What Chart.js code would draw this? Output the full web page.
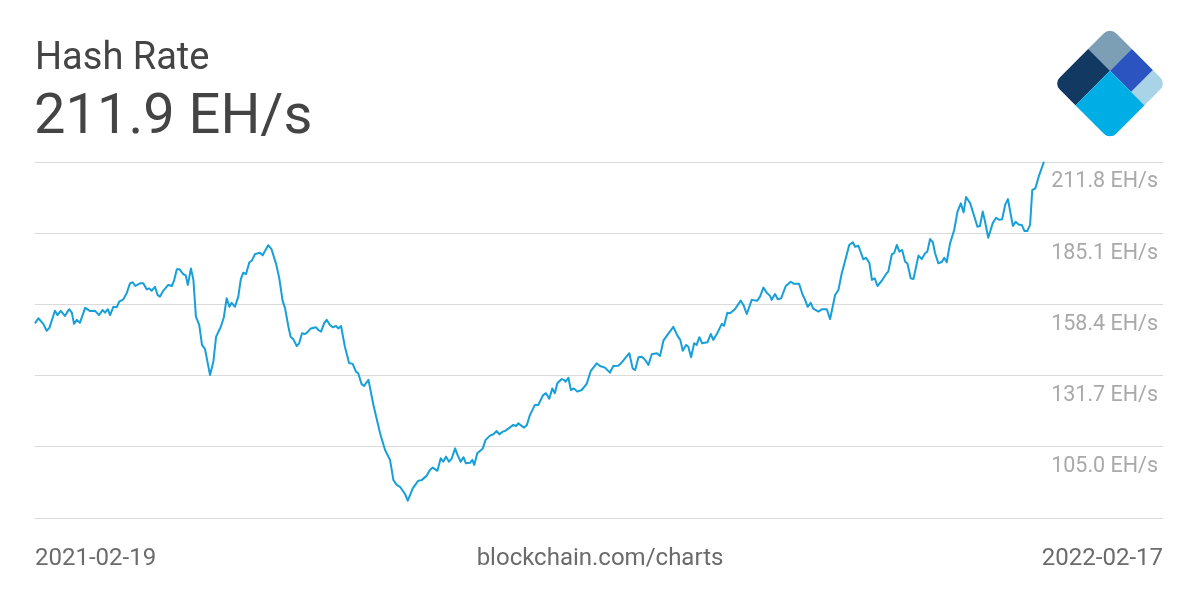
<!DOCTYPE html>
<html>
<head>
<meta charset="utf-8">
<script src="https://cdn.jsdelivr.net/npm/chart.js@4"></script>
<style>
  html, body { margin: 0; padding: 0; background: #ffffff; }
  #wrap { position: relative; width: 1200px; height: 600px; overflow: hidden; font-family: Roboto, "Noto Sans", sans-serif; }
  #chartBox { position: absolute; left: 0; top: 0; width: 1200px; height: 600px; }
  .txt { position: absolute; line-height: 1; white-space: nowrap; }
  #title { left: 35px; top: 37px; font-size: 38px; color: #444444; }
  #value { left: 34px; top: 86px; font-size: 56px; color: #444444; }
  #fLeft { left: 35px; top: 545px; font-size: 24px; color: #6b6b6b; }
  #fMid { left: 0; width: 1200px; text-align: center; top: 545px; font-size: 24px; color: #6b6b6b; }
  #fRight { right: 37px; top: 545px; font-size: 24px; color: #6b6b6b; }
  #logo { position: absolute; left: 0; top: 0; }
</style>
</head>
<body>
<div id="wrap">
  <div id="chartBox"><canvas id="c"></canvas></div>
  <div class="txt" id="title">Hash Rate</div>
  <div class="txt" id="value">211.9 EH/s</div>
  <div class="txt" id="fLeft">2021-02-19</div>
  <div class="txt" id="fMid">blockchain.com/charts</div>
  <div class="txt" id="fRight">2022-02-17</div>
  <svg id="logo" width="1200" height="160" viewBox="0 0 1200 160">
    <defs>
      <clipPath id="rr"><rect x="-40" y="-40" width="80" height="80" rx="9" ry="9"/></clipPath>
    </defs>
    <g transform="translate(1110,83.5) rotate(45)" clip-path="url(#rr)">
      <rect x="-40" y="-40" width="31" height="31" fill="#7c9fb5"/>
      <rect x="-40" y="-9" width="31" height="49" fill="#123962"/>
      <rect x="-9" y="-40" width="30" height="31" fill="#2b54c0"/>
      <rect x="21" y="-40" width="19" height="31" fill="#a9d4e8"/>
      <rect x="-9" y="-9" width="49" height="49" fill="#00aee6"/>
    </g>
  </svg>
</div>
<script>
// ---- data ----
// day offset from 2021-02-19
const days = [
  0.0,1.2,3.0,4.2,5.2,7.2,8.1,9.3,10.8,12.3,13.3,14.1,15.1,16.2,18.1,19.9,21.7,23.1,24.4,25.3,
  26.3,27.1,28.3,29.5,30.4,31.9,33.1,34.3,35.3,36.2,37.9,39.1,40.3,41.3,42.1,43.3,44.3,45.1,46.3,48.1,
  49.4,50.2,51.2,52.1,53.6,54.4,55.2,56.3,57.2,58.1,59.3,60.3,61.4,63.2,64.4,65.4,67.1,68.2,69.2,70.2,
  71.0,72.2,73.4,74.3,75.2,76.2,77.4,78.3,79.4,81.2,82.2,84.2,85.4,87.0,88.2,89.4,90.3,91.5,92.3,93.3,
  94.5,95.4,96.4,97.5,98.3,99.6,101.5,102.3,103.3,104.4,105.3,106.5,107.5,108.7,109.5,110.5,111.9,113.4,114.7,115.9,
  116.7,117.9,118.8,120.4,122.2,124.6,126.4,128.2,129.4,130.6,131.8,133.6,134.6,136.4,138.4,139.6,141.4,142.6,143.6,145.3,
  146.5,147.4,148.4,149.5,150.5,151.7,152.6,153.7,154.7,155.6,157.1,157.9,158.6,159.7,161.7,162.7,164.3,165.5,166.7,167.7,
  168.9,169.7,171.5,172.7,173.7,174.5,176.6,177.6,178.7,180.5,181.7,183.5,184.5,185.7,186.8,187.7,188.6,190.2,191.0,191.6,
  192.6,193.5,194.6,195.8,197.4,199.2,200.7,202.8,204.0,205.8,207.6,208.8,210.6,211.6,213.4,214.6,215.8,216.7,217.9,219.1,
  220.3,221.5,222.7,224.5,225.7,226.9,228.1,230.5,232.0,233.0,233.9,235.1,235.9,236.9,238.0,238.9,239.9,240.9,242.8,244.0,
  244.9,246.2,248.0,248.8,250.0,251.0,252.8,254.8,255.8,257.0,258.8,260.8,261.8,263.0,264.2,265.4,266.0,267.2,268.2,269.4,
  271.1,272.9,274.1,275.9,277.2,278.0,279.0,280.1,281.0,282.9,284.1,285.9,287.1,288.9,290.1,291.3,292.5,294.0,295.3,296.1,
  297.3,299.1,300.1,301.3,302.2,303.2,304.2,305.7,307.5,308.1,309.4,310.2,311.2,312.1,313.1,314.2,315.0,316.2,317.2,319.0,
  320.2,321.4,322.2,323.2,324.2,325.0,326.2,327.5,328.3,329.2,330.4,331.9,333.1,334.3,335.3,336.2,337.7,338.8,340.3,341.2,
  342.2,343.0,344.2,345.8,347.0,348.2,349.2,350.3,351.3,353.1,354.1,355.1,356.3,357.3,358.3,359.3,360.1,361.2,362.6,364.3
];
// hash rate, EH/s
const hashRate = [
  151.3,153.2,151.1,148.5,149.6,156.0,154.4,156.0,154.1,156.6,155.3,151.1,152.6,151.5,157.1,155.9,156.0,154.4,156.3,155.3,
  156.6,154.4,157.5,157.3,159.4,160.3,162.6,166.3,166.7,165.3,166.3,166.3,164.1,164.4,163.5,165.0,161.9,161.3,163.5,165.7,
  165.3,167.3,171.6,171.6,169.7,169.3,165.7,171.9,167.6,153.8,150.7,143.2,141.6,131.9,136.9,146.3,150.0,153.6,160.7,157.5,
  159.0,157.5,161.3,167.8,170.3,169.8,174.2,174.8,177.2,177.8,176.8,180.6,179.1,173.8,168.2,159.8,156.9,150.0,146.3,145.3,
  142.8,143.8,147.6,147.3,147.9,149.4,149.8,148.8,148.2,151.3,152.6,150.7,149.8,150.3,149.4,150.3,142.5,136.4,136.1,133.2,
  132.6,128.6,127.8,130.1,120.7,110.1,103.8,100.1,92.6,90.7,90.0,87.3,84.8,89.4,92.3,92.5,94.1,96.3,97.2,96.0,
  100.7,99.4,101.3,99.4,100.7,104.4,101.9,99.4,101.1,98.8,99.0,100.1,98.2,102.6,104.4,107.6,109.2,109.7,110.9,109.7,
  110.7,110.9,112.3,113.2,112.8,113.8,112.2,113.2,116.9,120.7,120.7,124.4,125.1,123.0,126.9,125.1,128.8,130.4,130.1,129.4,
  130.9,126.3,126.9,125.7,126.3,128.6,133.5,136.3,135.3,134.7,132.8,135.3,135.4,136.3,138.6,140.1,134.4,133.8,138.6,138.8,
  137.6,135.7,139.7,140.1,139.1,144.8,146.6,150.0,146.6,145.1,141.0,143.2,142.5,138.6,143.8,143.2,146.1,143.8,144.2,147.3,
  145.1,147.3,151.1,150.4,155.3,155.1,156.7,159.8,158.2,154.8,160.1,159.8,161.3,164.7,162.8,161.6,160.1,162.3,160.3,160.7,
  165.3,166.9,166.1,166.1,161.9,160.3,157.5,159.0,156.8,155.7,156.6,156.6,152.9,161.9,163.8,170.1,174.7,180.7,181.7,180.0,
  180.4,175.3,175.9,173.8,167.6,168.2,165.3,167.2,170.1,170.7,177.2,177.6,180.7,178.2,178.8,174.4,173.8,168.2,167.9,176.7,
  175.4,177.6,178.2,182.9,181.7,177.6,173.8,174.4,175.9,174.2,181.3,186.3,193.2,196.3,192.9,198.7,196.3,192.6,187.5,187.8,
  193.2,189.7,183.4,188.8,190.9,190.1,190.3,195.7,197.9,187.8,189.4,188.4,188.2,185.9,185.9,188.2,201.3,201.9,206.9,211.9
];
// y-axis gridline values
const tickValues = [78.3, 105.0, 131.7, 158.4, 185.1, 211.8];
const unit = ' EH/s';
const xMaxDay = 407.3; // axis extends past the last day to leave room for labels

const points = days.map((d, i) => ({ x: d, y: hashRate[i] }));

new Chart(document.getElementById('c'), {
  type: 'line',
  data: {
    datasets: [{
      data: points,
      borderColor: '#169fd9',
      borderWidth: 2,
      pointRadius: 0,
      tension: 0,
      fill: false,
      clip: false,
      borderJoinStyle: 'round'
    }]
  },
  options: {
    responsive: true,
    maintainAspectRatio: false,
    animation: false,
    events: [],
    layout: { padding: { left: 35, right: 37, top: 162, bottom: 82 } },
    plugins: { legend: { display: false }, tooltip: { enabled: false } },
    scales: {
      x: { type: 'linear', min: 0, max: xMaxDay, display: false },
      y: {
        position: 'right',
        min: tickValues[0],
        max: tickValues[tickValues.length - 1],
        afterBuildTicks: (axis) => { axis.ticks = tickValues.map(v => ({ value: v })); },
        afterFit: (axis) => { axis.width = 0; },
        border: { display: false },
        grid: { color: '#dadada', lineWidth: 1, drawTicks: false },
        ticks: {
          mirror: true,
          padding: -5,
          labelOffset: 20,
          autoSkip: false,
          color: '#a9a9a9',
          font: { family: 'Roboto', size: 21.5 },
          callback: (v) => (v === tickValues[0] ? '' : Number(v).toFixed(1) + unit)
        }
      }
    }
  }
});
</script>
</body>
</html>
